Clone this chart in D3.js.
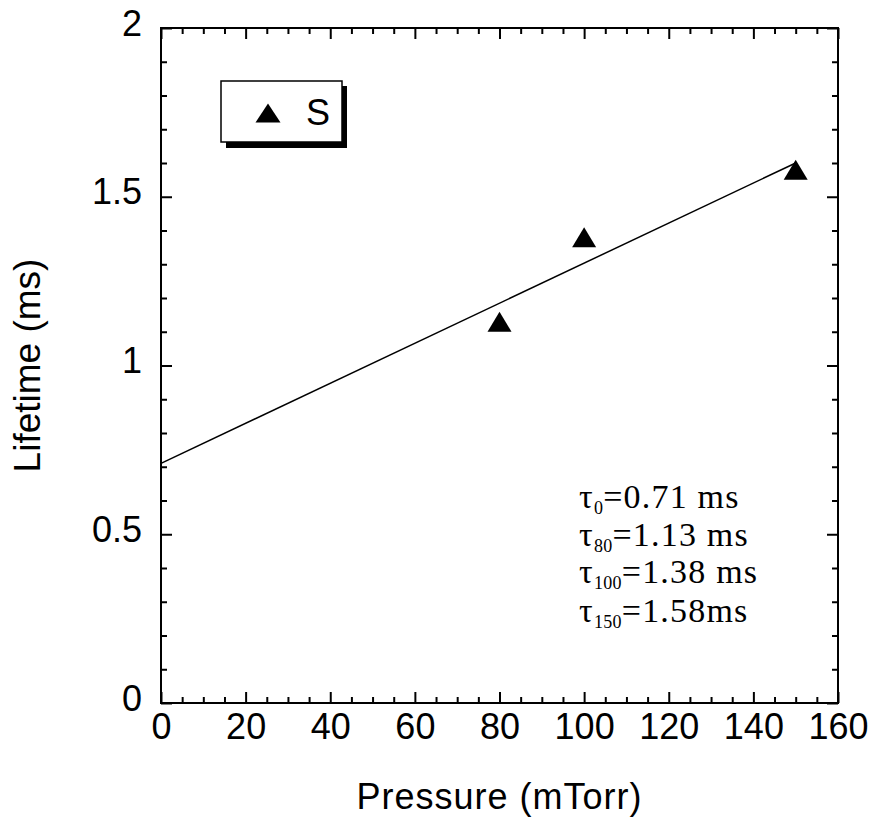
<!DOCTYPE html>
<html>
<head>
<meta charset="utf-8">
<script src="https://cdn.jsdelivr.net/npm/d3@7"></script>
<style>
  html, body { margin: 0; padding: 0; background: #fff; }
  svg { display: block; }
</style>
</head>
<body>
<svg id="chart" width="873" height="822"></svg>
<script>
// Measured lifetimes versus pressure
const pressure = [80, 100, 150];
const lifetime = [1.13, 1.38, 1.58];

// Linear fit drawn through the data (endpoints)
const fitPressure = [0, 150];
const fitLifetime = [0.71, 1.60];

// Axis ticks
const xMajor = [0, 20, 40, 60, 80, 100, 120, 140, 160];
const yMajor = [0, 0.5, 1, 1.5, 2];

// Annotation lines: symbol subscript and value text
const noteSubs = ["0", "80", "100", "150"];
const noteVals = ["=0.71 ms", "=1.13 ms", "=1.38 ms", "=1.58ms"];

const legendLabel = "S";

const svg = d3.select("#chart");
const plotLeft = 161, plotRight = 838, plotTop = 28, plotBottom = 703;

const x = d3.scaleLinear().domain([0, 160]).range([plotLeft, plotRight]);
const y = d3.scaleLinear().domain([0, 2]).range([plotBottom, plotTop]);

const xMinor = d3.range(0, 161, 5).filter(v => v % 20 !== 0);
const yMinor = d3.range(0, 21, 1).map(v => v / 10).filter(v => Math.round(v * 10) % 5 !== 0);

const font = "'Liberation Sans', Arial, sans-serif";

function styleAxis(g) {
  g.select(".domain").remove();
  g.selectAll(".tick line").attr("stroke", "#000").attr("stroke-width", 2);
  g.selectAll("text").attr("fill", "#000").attr("font-family", font).attr("font-size", 36);
}

// Bottom axis with labels, inward ticks
svg.append("g").attr("transform", `translate(0,${plotBottom})`)
  .call(d3.axisBottom(x).tickValues(xMajor).tickSize(-11).tickPadding(10).tickFormat(d3.format("d")))
  .call(styleAxis);
svg.append("g").attr("transform", `translate(0,${plotBottom})`)
  .call(d3.axisBottom(x).tickValues(xMinor).tickSize(-6).tickFormat(""))
  .call(styleAxis);

// Top axis mirrors ticks
svg.append("g").attr("transform", `translate(0,${plotTop})`)
  .call(d3.axisTop(x).tickValues(xMajor).tickSize(-11).tickFormat(""))
  .call(styleAxis);
svg.append("g").attr("transform", `translate(0,${plotTop})`)
  .call(d3.axisTop(x).tickValues(xMinor).tickSize(-6).tickFormat(""))
  .call(styleAxis);

// Left axis with labels
const gy = svg.append("g").attr("transform", `translate(${plotLeft},0)`)
  .call(d3.axisLeft(y).tickValues(yMajor).tickSize(-11).tickPadding(19).tickFormat(d3.format("~g")))
  .call(styleAxis);
gy.selectAll("text").attr("dy", "7px");
svg.append("g").attr("transform", `translate(${plotLeft},0)`)
  .call(d3.axisLeft(y).tickValues(yMinor).tickSize(-6).tickFormat(""))
  .call(styleAxis);

// Right axis mirrors ticks
svg.append("g").attr("transform", `translate(${plotRight},0)`)
  .call(d3.axisRight(y).tickValues(yMajor).tickSize(-11).tickFormat(""))
  .call(styleAxis);
svg.append("g").attr("transform", `translate(${plotRight},0)`)
  .call(d3.axisRight(y).tickValues(yMinor).tickSize(-6).tickFormat(""))
  .call(styleAxis);

// Plot frame
svg.append("rect")
  .attr("x", plotLeft).attr("y", plotTop)
  .attr("width", plotRight - plotLeft).attr("height", plotBottom - plotTop)
  .attr("fill", "none").attr("stroke", "#000").attr("stroke-width", 2);

// Fit line
const fitData = fitPressure.map((p, i) => [p, fitLifetime[i]]);
svg.append("path")
  .datum(fitData)
  .attr("d", d3.line().x(d => x(d[0])).y(d => y(d[1])))
  .attr("fill", "none").attr("stroke", "#000").attr("stroke-width", 1.5);

// Filled triangle marker centred on its bounding box
function triangle(cx, cy, w = 24, h = 20) {
  return `M${cx},${cy - h / 2}L${cx + w / 2},${cy + h / 2}L${cx - w / 2},${cy + h / 2}Z`;
}

svg.append("g").selectAll("path")
  .data(pressure.map((p, i) => [p, lifetime[i]]))
  .join("path")
  .attr("d", d => triangle(x(d[0]), y(d[1])))
  .attr("fill", "#000");

// Legend box with drop shadow
const lg = svg.append("g");
lg.append("rect").attr("x", 226).attr("y", 86).attr("width", 121).attr("height", 62).attr("fill", "#000");
lg.append("rect").attr("x", 221).attr("y", 81).attr("width", 121).attr("height", 61)
  .attr("fill", "#fff").attr("stroke", "#000").attr("stroke-width", 1.5);
lg.append("path").attr("d", triangle(268, 113, 25, 19)).attr("fill", "#000");
lg.append("text").attr("x", 306).attr("y", 125)
  .attr("font-family", font).attr("font-size", 36).attr("fill", "#000")
  .text(legendLabel);

// Lifetime annotation
const note = svg.append("g")
  .attr("font-family", "'Liberation Serif', 'Times New Roman', serif")
  .attr("letter-spacing", 1.2)
  .attr("fill", "#000");
const baselines = [508, 546, 583, 622];
noteSubs.forEach((s, i) => {
  const t = note.append("text").attr("x", 579).attr("y", baselines[i]).attr("font-size", 34);
  t.append("tspan").text("τ");
  t.append("tspan").attr("font-size", 18).attr("dy", 6).attr("letter-spacing", 0.3).text(s);
  t.append("tspan").attr("dy", -6).text(noteVals[i]);
});

// Axis titles
svg.append("text")
  .attr("x", (plotLeft + plotRight) / 2).attr("y", 809)
  .attr("text-anchor", "middle")
  .attr("font-family", font).attr("font-size", 36).attr("letter-spacing", 1)
  .attr("fill", "#000")
  .text("Pressure (mTorr)");

svg.append("text")
  .attr("transform", `translate(40,${(plotTop + plotBottom) / 2}) rotate(-90)`)
  .attr("text-anchor", "middle")
  .attr("font-family", font).attr("font-size", 37).attr("fill", "#000")
  .text("Lifetime (ms)");
</script>
</body>
</html>
